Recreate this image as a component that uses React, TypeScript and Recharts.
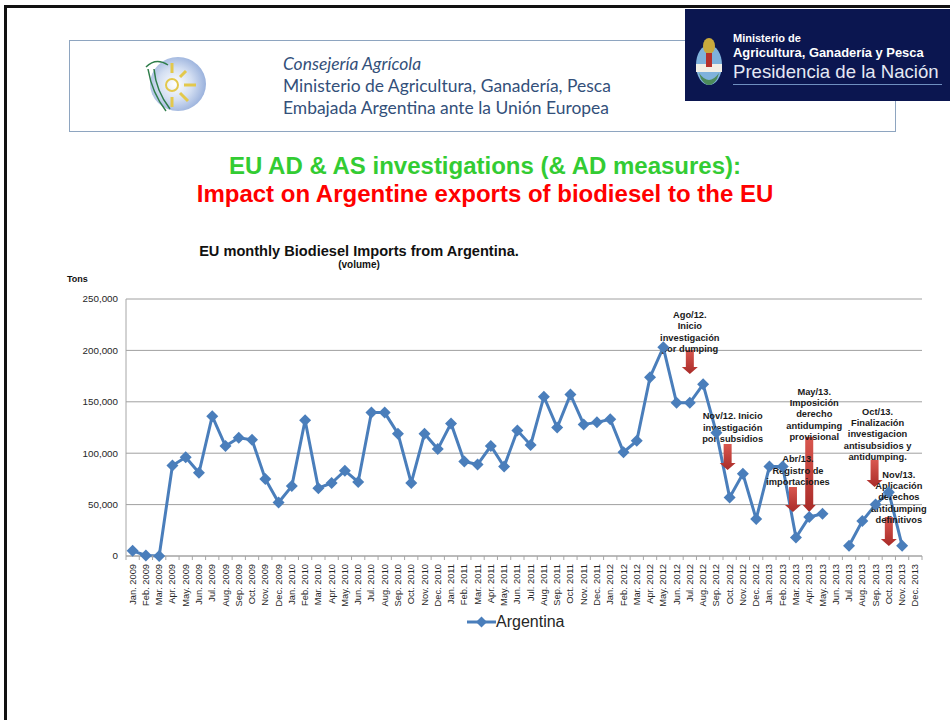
import { CartesianGrid, ComposedChart, Legend, Line, ReferenceDot, XAxis, YAxis } from 'recharts';

const MONTHS = ['Jan.', 'Feb.', 'Mar.', 'Apr.', 'May.', 'Jun.', 'Jul.', 'Aug.', 'Sep.', 'Oct.', 'Nov.', 'Dec.'];
const YEARS = [2009, 2010, 2011, 2012, 2013];
const CATEGORIES = YEARS.flatMap((year) => MONTHS.map((month) => `${month} ${year}`));

const VALUES_2009 = [5000, 500, 0, 88000, 96000, 81000, 136000, 107000, 115000, 113000, 75000, 52000];
const VALUES_2010 = [68000, 132000, 66000, 71000, 83000, 72000, 139500, 139500, 119000, 71000, 119000, 104000];
const VALUES_2011 = [129000, 92000, 89000, 107000, 87000, 122000, 108000, 155000, 125000, 157000, 128000, 130000];
const VALUES_2012 = [133000, 101000, 112000, 174000, 203000, 149000, 149000, 167000, 120000, 57000, 80000, 36000];
const VALUES_2013 = [87000, 87000, 18000, 38000, 41000, null, 10000, 34000, 50000, 62000, 10000, null];
const ARGENTINA = [...VALUES_2009, ...VALUES_2010, ...VALUES_2011, ...VALUES_2012, ...VALUES_2013];

const Y_TICKS = [0, 50000, 100000, 150000, 200000, 250000];

const NOTE_AGO_12 = ['Ago/12.', 'Inicio', 'investigación', 'por dumping'];
const NOTE_NOV_12 = ['Nov/12. Inicio', 'investigación', 'por subsidios'];
const NOTE_ABR_13 = ['Abr/13.', 'Registro de', 'importaciones'];
const NOTE_MAY_13 = ['May/13.', 'Imposición', 'derecho', 'antidumping', 'provisional'];
const NOTE_OCT_13 = ['Oct/13.', 'Finalización', 'investigacion', 'antisubsidios y', 'antidumping.'];
const NOTE_NOV_13 = ['Nov/13.', 'Aplicación', 'derechos', 'antidumping', 'definitivos'];

const data = CATEGORIES.map((name, i) => ({ name, argentina: ARGENTINA[i] }));

const FONT = 'Arial, "Liberation Sans", sans-serif';
const BLUE = '#4a7ebb';
const BAND = 796 / 60;

function DiamondDot({ cx, cy, value }: any) {
  if (value === null || value === undefined) return <g />;
  const r = 6;
  return <polygon points={`${cx},${cy - r} ${cx + r},${cy} ${cx},${cy + r} ${cx - r},${cy}`} fill={BLUE} />;
}

function MonthTick({ x, y, payload }: any) {
  return (
    <g>
      <line x1={x + BAND / 2} x2={x + BAND / 2} y1={y - 8} y2={y - 4} stroke="#a6a6a6" />
      {payload.index === 0 && <line x1={x - BAND / 2} x2={x - BAND / 2} y1={y - 8} y2={y - 4} stroke="#a6a6a6" />}
      <text
        x={0}
        y={0}
        transform={`translate(${x + 3},${y}) rotate(-90)`}
        textAnchor="end"
        fontSize={9.3}
        fontFamily={FONT}
        fill="#262626"
      >
        {payload.value}
      </text>
    </g>
  );
}

// tip sits on the value, dx nudges it off the month centre
function Arrow({ cx, cy, length, dx = 0, head = 8 }: any) {
  const x = cx + dx;
  const w = 4;
  const neck = cy - 7;
  const id = `arrow-${Math.round(x)}`;
  return (
    <g>
      <defs>
        <linearGradient id={id} x1="0" y1="0" x2="0" y2="1">
          <stop offset="0" stopColor="#d9574f" />
          <stop offset="1" stopColor="#a92b28" />
        </linearGradient>
      </defs>
      <polygon
        points={`${x - w},${cy - length} ${x + w},${cy - length} ${x + w},${neck} ${x + head},${neck} ${x},${cy} ${x - head},${neck} ${x - w},${neck}`}
        fill={`url(#${id})`}
      />
    </g>
  );
}

function NoteText({ cx, cy, lines, textDx, textBottom }: any) {
  const lineH = 11.3;
  return (
    <g>
      {lines.map((line: string, i: number) => (
        <text
          key={line}
          x={cx + textDx}
          y={cy - textBottom - (lines.length - 1 - i) * lineH}
          textAnchor="middle"
          fontSize={9.3}
          fontWeight="bold"
          fontFamily={FONT}
          fill="#1a1a1a"
        >
          {line}
        </text>
      ))}
    </g>
  );
}

function ChartLegend() {
  return (
    <div style={{ display: 'flex', alignItems: 'center', fontFamily: FONT, fontSize: 16, color: '#262626' }}>
      <svg width={29} height={14}>
        <line x1={0} x2={29} y1={7} y2={7} stroke={BLUE} strokeWidth={3} />
        <polygon points="14.5,1.5 20,7 14.5,12.5 9,7" fill={BLUE} />
      </svg>
      <span>Argentina</span>
    </div>
  );
}

function MinistryEmblem() {
  return (
    <svg width={32} height={56} style={{ position: 'absolute', left: 8, top: 26 }}>
      <ellipse cx={16} cy={30} rx={13} ry={20} fill="#7fb2dc" />
      <rect x={3} y={29} width={26} height={8} fill="#f2efe6" />
      <ellipse cx={16} cy={11} rx={6} ry={8} fill="#c9a93c" />
      <rect x={13} y={18} width={6} height={14} fill="#b5302c" />
      <path d="M6 38 Q16 52 26 38 L24 44 Q16 56 8 44 Z" fill="#4c8a5a" />
    </svg>
  );
}

function SunLogo() {
  return (
    <svg width={66} height={60} style={{ position: 'absolute', left: 142, top: 55 }}>
      <defs>
        <radialGradient id="sky" cx="0.45" cy="0.5" r="0.6">
          <stop offset="0" stopColor="#ffffff" />
          <stop offset="0.5" stopColor="#d4dff2" />
          <stop offset="1" stopColor="#8ea8d8" />
        </radialGradient>
      </defs>
      <ellipse cx={36} cy={29} rx={28} ry={27} fill="url(#sky)" />
      <circle cx={30} cy={30} r={6} fill="none" stroke="#e3c84c" strokeWidth={2} />
      <g stroke="#e3c84c" strokeWidth={3}>
        <line x1={30} y1={8} x2={30} y2={18} />
        <line x1={44} y1={16} x2={38} y2={22} />
        <line x1={54} y1={30} x2={42} y2={30} />
        <line x1={46} y1={46} x2={38} y2={38} />
        <line x1={30} y1={52} x2={30} y2={42} />
      </g>
      <path d="M4 12 Q14 2 26 10 M6 14 Q10 38 24 56 M12 14 Q14 36 28 54" fill="none" stroke="#2e7d4a" strokeWidth={1.5} />
    </svg>
  );
}

export default function App() {
  return (
    <div style={{ position: 'absolute', left: 0, top: 0, width: 950, height: 720, overflow: 'hidden', background: '#fff' }}>
      <div style={{ position: 'absolute', left: 4, top: 5, right: -4, bottom: -4, borderTop: '3px solid #111', borderLeft: '3px solid #111' }} />

      <div style={{ position: 'absolute', left: 69, top: 40, width: 827, height: 92, boxSizing: 'border-box', border: '1px solid #8ea5c0' }} />
      <SunLogo />
      <div style={{ position: 'absolute', left: 283, top: 53, fontFamily: 'Lato, sans-serif', fontSize: 17.45, lineHeight: '22px', color: '#33507a', whiteSpace: 'nowrap' }}>
        <div style={{ fontStyle: 'italic' }}>Consejería Agrícola</div>
        <div>Ministerio de Agricultura, Ganadería, Pesca</div>
        <div>Embajada Argentina ante la Unión Europea</div>
      </div>

      <div style={{ position: 'absolute', left: 685, top: 9, width: 265, height: 92, background: '#0b1650', color: '#fff', fontFamily: FONT }}>
        <MinistryEmblem />
        <div style={{ position: 'absolute', left: 48, top: 23, fontSize: 11, fontWeight: 'bold', whiteSpace: 'nowrap' }}>Ministerio de</div>
        <div style={{ position: 'absolute', left: 48, top: 36, fontSize: 12.9, fontWeight: 'bold', whiteSpace: 'nowrap' }}>Agricultura, Ganadería y Pesca</div>
        <div style={{ position: 'absolute', left: 48, top: 52, fontSize: 18.6, whiteSpace: 'nowrap', color: '#e4e8f4' }}>Presidencia de la Nación</div>
        <div style={{ position: 'absolute', left: 48, top: 75, width: 209, height: 1, background: '#6f8fc0' }} />
      </div>

      <div style={{ position: 'absolute', left: 0, top: 152, width: 970, textAlign: 'center', fontFamily: FONT, fontWeight: 'bold', fontSize: 24, lineHeight: '28px' }}>
        <div style={{ color: '#33cc33' }}>EU AD &amp; AS investigations (&amp; AD measures):</div>
        <div style={{ color: '#ff0000' }}>Impact on Argentine exports of biodiesel to the EU</div>
      </div>

      <div style={{ position: 'absolute', left: 159, top: 243, width: 400, textAlign: 'center', fontFamily: FONT, fontWeight: 'bold', fontSize: 14.6, color: '#111' }}>
        EU monthly Biodiesel Imports from Argentina.
      </div>
      <div style={{ position: 'absolute', left: 259, top: 259, width: 200, textAlign: 'center', fontFamily: FONT, fontWeight: 'bold', fontSize: 10, color: '#111' }}>
        (volume)
      </div>
      <div style={{ position: 'absolute', left: 67, top: 274, fontFamily: FONT, fontWeight: 'bold', fontSize: 9, color: '#111' }}>Tons</div>

      <ComposedChart
        width={950}
        height={720}
        data={data}
        margin={{ top: 299, right: 28, bottom: 94, left: 66 }}
        style={{ position: 'absolute', left: 0, top: 0 }}
      >
        <CartesianGrid vertical={false} stroke="#a0a0a0" />
        <XAxis dataKey="name" scale="band" interval={0} height={50} tickLine={false} tick={<MonthTick />} stroke="#a6a6a6" />
        <YAxis
          width={60}
          domain={[0, 250000]}
          ticks={Y_TICKS}
          tickFormatter={(v: number) => v.toLocaleString('en-US')}
          tickLine={false}
          stroke="#a6a6a6"
          tick={{ fontSize: 9.8, fontFamily: FONT, fill: '#262626' }}
        />
        <Legend
          content={<ChartLegend />}
          wrapperStyle={{ position: 'absolute', left: 467, top: 613, width: 110, height: 20 }}
        />
        <Line
          dataKey="argentina"
          name="Argentina"
          stroke={BLUE}
          strokeWidth={3}
          dot={<DiamondDot />}
          activeDot={false}
          connectNulls={false}
          isAnimationActive={false}
        />
        <ReferenceDot x="Jul. 2012" y={177000} ifOverflow="visible" shape={<Arrow length={24} />} />
        <ReferenceDot x="Oct. 2012" y={83600} ifOverflow="visible" shape={<Arrow length={26} dx={-2} />} />
        <ReferenceDot x="Mar. 2013" y={42800} ifOverflow="visible" shape={<Arrow length={25} dx={-3} />} />
        <ReferenceDot x="Apr. 2013" y={42800} ifOverflow="visible" shape={<Arrow length={75} head={6.5} />} />
        <ReferenceDot x="Sep. 2013" y={67100} ifOverflow="visible" shape={<Arrow length={27} dx={-1} />} />
        <ReferenceDot x="Oct. 2013" y={9700} ifOverflow="visible" shape={<Arrow length={29} />} />
        <ReferenceDot x="Jul. 2012" y={177000} ifOverflow="visible" shape={<NoteText lines={NOTE_AGO_12} textDx={0} textBottom={22} />} />
        <ReferenceDot x="Oct. 2012" y={83600} ifOverflow="visible" shape={<NoteText lines={NOTE_NOV_12} textDx={3} textBottom={28} />} />
        <ReferenceDot x="Mar. 2013" y={42800} ifOverflow="visible" shape={<NoteText lines={NOTE_ABR_13} textDx={2} textBottom={27} />} />
        <ReferenceDot x="Apr. 2013" y={42800} ifOverflow="visible" shape={<NoteText lines={NOTE_MAY_13} textDx={5} textBottom={72} />} />
        <ReferenceDot x="Sep. 2013" y={67100} ifOverflow="visible" shape={<NoteText lines={NOTE_OCT_13} textDx={2} textBottom={27} />} />
        <ReferenceDot x="Oct. 2013" y={9700} ifOverflow="visible" shape={<NoteText lines={NOTE_NOV_13} textDx={10} textBottom={23} />} />
      </ComposedChart>
    </div>
  );
}
